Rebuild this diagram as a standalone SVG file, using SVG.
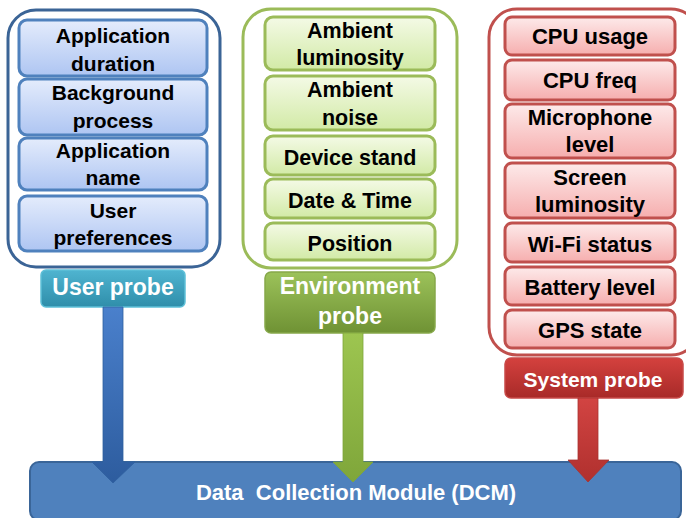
<svg xmlns="http://www.w3.org/2000/svg" width="686" height="518" viewBox="0 0 686 518">
<defs>
<linearGradient id="gBlueItem" x1="0" y1="0" x2="0" y2="1"><stop offset="0" stop-color="#e4ecfc"/><stop offset="1" stop-color="#aec5f2"/></linearGradient>
<linearGradient id="gGreenItem" x1="0" y1="0" x2="0" y2="1"><stop offset="0" stop-color="#f4fae6"/><stop offset="1" stop-color="#d2eaa6"/></linearGradient>
<linearGradient id="gRedItem" x1="0" y1="0" x2="0" y2="1"><stop offset="0" stop-color="#fdeaea"/><stop offset="1" stop-color="#f6aeae"/></linearGradient>
<linearGradient id="gTeal" x1="0" y1="0" x2="0" y2="1"><stop offset="0" stop-color="#4fb4d0"/><stop offset="1" stop-color="#2f8eaa"/></linearGradient>
<linearGradient id="gGreen" x1="0" y1="0" x2="0" y2="1"><stop offset="0" stop-color="#9cc25a"/><stop offset="1" stop-color="#6f9234"/></linearGradient>
<linearGradient id="gRed" x1="0" y1="0" x2="0" y2="1"><stop offset="0" stop-color="#d4413e"/><stop offset="1" stop-color="#a82a28"/></linearGradient>
<linearGradient id="aBlue" x1="0" y1="0" x2="0" y2="1"><stop offset="0" stop-color="#4a80cc"/><stop offset="1" stop-color="#2d5c9e"/></linearGradient>
<linearGradient id="aGreen" x1="0" y1="0" x2="0" y2="1"><stop offset="0" stop-color="#9dc550"/><stop offset="1" stop-color="#7fa63a"/></linearGradient>
<linearGradient id="aRed" x1="0" y1="0" x2="0" y2="1"><stop offset="0" stop-color="#d24442"/><stop offset="1" stop-color="#b0302e"/></linearGradient>
</defs>
<style>
text{font-family:"Liberation Sans",Arial,sans-serif;font-weight:bold;text-anchor:middle}
.it{font-size:21px;fill:#000}
.itg{font-size:21.5px;fill:#000}
.itr{font-size:22px;fill:#000}
.lb{fill:#fff;font-size:23px}
.bo{fill:#fff;stroke:#3b6496;stroke-width:3}
.go{fill:#fff;stroke:#9bbb59;stroke-width:3}
.ro{fill:#fff;stroke:#c0504d;stroke-width:3}
.bi{fill:url(#gBlueItem);stroke:#4f81bd;stroke-width:3}
.gi{fill:url(#gGreenItem);stroke:#9bbb59;stroke-width:3}
.ri{fill:url(#gRedItem);stroke:#c0504d;stroke-width:3}
</style>

<g id="user-probe">
<rect class="bo" x="8" y="10" width="212" height="257" rx="28"/>
<rect class="bi" x="19" y="20" width="188" height="56" rx="8"/>
<text class="it" x="113" y="43">Application</text><text class="it" x="113" y="71">duration</text>
<rect class="bi" x="19" y="79" width="188" height="56" rx="8"/>
<text class="it" x="113" y="100">Background</text><text class="it" x="113" y="128">process</text>
<rect class="bi" x="19" y="138" width="188" height="52" rx="8"/>
<text class="it" x="113" y="158">Application</text><text class="it" x="113" y="185">name</text>
<rect class="bi" x="19" y="196" width="188" height="55" rx="8"/>
<text class="it" x="113" y="218">User</text><text class="it" x="113" y="245">preferences</text>
<rect x="41" y="270" width="144" height="37" rx="5" fill="url(#gTeal)" stroke="#5ec0d8" stroke-width="1.5"/>
<text class="lb" x="113" y="295">User probe</text>
</g>

<g id="environment-probe">
<rect class="go" x="243" y="9" width="214" height="259" rx="28"/>
<rect class="gi" x="265" y="17" width="170" height="53" rx="8"/>
<text class="itg" x="350" y="38">Ambient</text><text class="itg" x="350" y="65">luminosity</text>
<rect class="gi" x="265" y="76" width="170" height="54" rx="8"/>
<text class="itg" x="350" y="97">Ambient</text><text class="itg" x="350" y="125">noise</text>
<rect class="gi" x="265" y="136" width="170" height="39" rx="8"/>
<text class="itg" x="350" y="165">Device stand</text>
<rect class="gi" x="265" y="179" width="170" height="39" rx="8"/>
<text class="itg" x="350" y="208">Date &amp; Time</text>
<rect class="gi" x="265" y="223" width="170" height="37" rx="8"/>
<text class="itg" x="350" y="251">Position</text>
<rect x="265" y="272" width="170" height="61" rx="6" fill="url(#gGreen)" stroke="#86a84a" stroke-width="1.5"/>
<text class="lb" x="350" y="294">Environment</text><text class="lb" x="350" y="324">probe</text>
</g>

<g id="system-probe">
<rect class="ro" x="489" y="9" width="210" height="346" rx="28"/>
<rect class="ri" x="505" y="17" width="170" height="38" rx="7"/>
<text class="itr" x="590" y="44">CPU usage</text>
<rect class="ri" x="505" y="60" width="170" height="40" rx="7"/>
<text class="itr" x="590" y="88">CPU freq</text>
<rect class="ri" x="505" y="104" width="170" height="54" rx="7"/>
<text class="itr" x="590" y="125">Microphone</text><text class="itr" x="590" y="152">level</text>
<rect class="ri" x="505" y="163" width="170" height="55" rx="7"/>
<text class="itr" x="590" y="185">Screen</text><text class="itr" x="590" y="212">luminosity</text>
<rect class="ri" x="505" y="223" width="170" height="39" rx="7"/>
<text class="itr" x="590" y="252">Wi-Fi status</text>
<rect class="ri" x="505" y="267" width="170" height="38" rx="7"/>
<text class="itr" x="590" y="295">Battery level</text>
<rect class="ri" x="505" y="310" width="170" height="38" rx="7"/>
<text class="itr" x="590" y="338">GPS state</text>
<rect x="505" y="358" width="178" height="40" rx="6" fill="url(#gRed)" stroke="#c84a48" stroke-width="1.5"/>
<text class="lb" x="593" y="387" style="font-size:21px">System probe</text>
</g>

<g id="dcm">
<rect x="30" y="462" width="651" height="58" rx="9" fill="#4f81bd" stroke="#3a6598" stroke-width="2"/>
<text x="356" y="500" xml:space="preserve" style="font-size:22px;fill:#fff">Data  Collection Module (DCM)</text>
</g>

<g id="connectors">
<path d="M103 307 H123 V462 H135 L113 483 L92 462 H103 Z" fill="url(#aBlue)" stroke="#2f5f9e" stroke-width="0.8"/>
<path d="M343 333 H363 V462 H373 L353 482 L333 462 H343 Z" fill="url(#aGreen)" stroke="#7fa63a" stroke-width="0.8"/>
<path d="M578 398 H598 V460 H609 L588 482 L568 460 H578 Z" fill="url(#aRed)" stroke="#a83230" stroke-width="0.8"/>
</g>
</svg>
